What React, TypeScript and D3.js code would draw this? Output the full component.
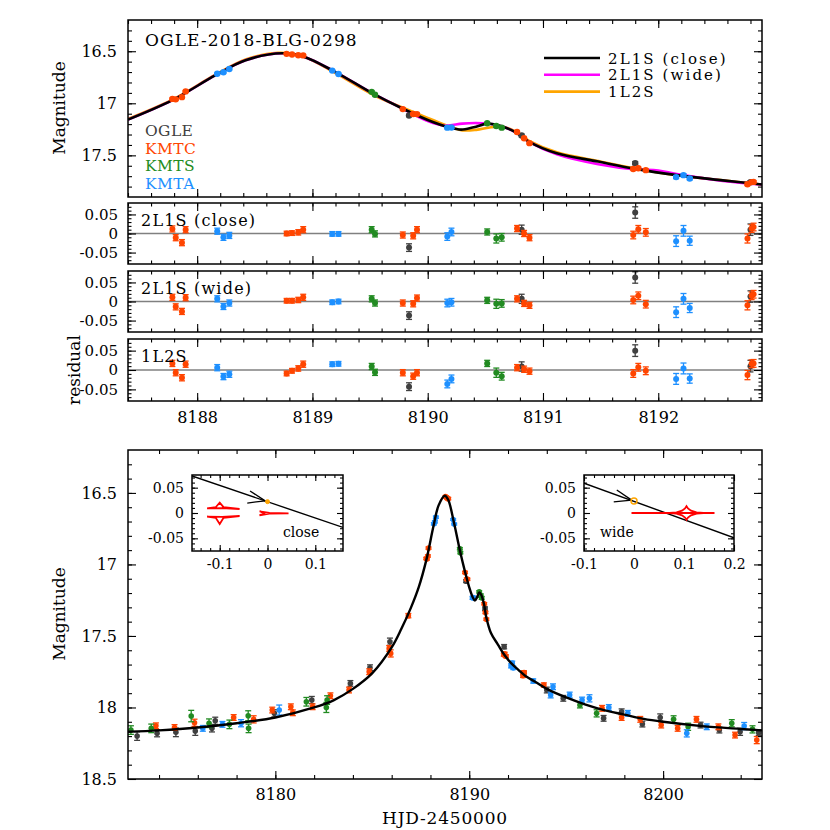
import { useRef, useEffect } from 'react'
import * as d3 from 'd3'

const FONT = 'DejaVu Serif'

const datasetNames = ['OGLE', 'KMTC', 'KMTS', 'KMTA']
const datasetColors = ['#404040', '#ff4500', '#228b22', '#1e90ff']

// points inside the zoomed window: [HJD', mag, err, res close, res wide, res 1L2S]
const zoomOgle = [
  [8189.838, 17.117, 0.01, -0.037, -0.037, -0.043],
  [8190.815, 17.309, 0.012, 0.01, 0.007, 0.009],
  [8191.8, 17.575, 0.015, 0.055, 0.063, 0.05],
  [8192.8, 17.759, 0.015, 0.01, 0.013, 0.01],
]
const zoomKmtc = [
  [8187.785, 16.958, 0.008, 0.012, 0.011, 0.017],
  [8187.814, 16.962, 0.008, -0.011, -0.014, -0.007],
  [8187.868, 16.941, 0.008, -0.024, -0.026, -0.02],
  [8187.9, 16.886, 0.008, 0.01, 0.01, 0.015],
  [8188.776, 16.525, 0.006, 0.0, 0.002, -0.009],
  [8188.823, 16.531, 0.006, 0.001, 0.002, -0.002],
  [8188.877, 16.539, 0.007, 0.003, 0.004, 0.004],
  [8188.92, 16.54, 0.008, 0.01, 0.011, 0.015],
  [8189.784, 17.056, 0.008, -0.004, -0.004, -0.007],
  [8189.874, 17.103, 0.008, -0.006, -0.006, -0.016],
  [8189.907, 17.104, 0.008, 0.01, 0.009, -0.007],
  [8190.775, 17.275, 0.008, 0.013, 0.007, 0.006],
  [8190.836, 17.336, 0.008, 0.0, -0.005, 0.002],
  [8190.883, 17.383, 0.008, -0.011, -0.01, -0.003],
  [8191.783, 17.631, 0.01, -0.004, 0.004, -0.009],
  [8191.827, 17.624, 0.01, 0.011, 0.015, 0.007],
  [8191.892, 17.642, 0.01, 0.003, -0.007, -0.002],
  [8192.774, 17.778, 0.012, -0.013, -0.01, -0.013],
  [8192.81, 17.757, 0.01, 0.013, 0.015, 0.016],
  [8192.827, 17.755, 0.01, 0.017, 0.019, 0.017],
]
const zoomKmts = [
  [8189.514, 16.89, 0.008, 0.01, 0.007, 0.009],
  [8189.543, 16.918, 0.008, -0.001, -0.004, -0.006],
  [8190.516, 17.192, 0.008, 0.004, 0.003, 0.017],
  [8190.595, 17.218, 0.012, -0.013, -0.006, -0.007],
  [8190.642, 17.234, 0.01, -0.01, -0.005, -0.016],
]
const zoomKmta = [
  [8188.174, 16.716, 0.008, 0.006, 0.007, 0.006],
  [8188.228, 16.702, 0.008, -0.01, -0.013, -0.017],
  [8188.279, 16.67, 0.008, -0.005, -0.004, -0.011],
  [8189.172, 16.686, 0.006, -0.001, -0.002, 0.015],
  [8189.226, 16.718, 0.006, -0.001, 0.0, 0.016],
  [8190.17, 17.234, 0.01, -0.008, -0.004, -0.036],
  [8190.206, 17.232, 0.01, 0.004, -0.002, -0.023],
  [8192.155, 17.709, 0.014, -0.02, -0.028, -0.023],
  [8192.219, 17.69, 0.014, 0.007, 0.007, 0.004],
  [8192.273, 17.723, 0.012, -0.019, -0.017, -0.022],
]

// points outside the zoomed window: [HJD', mag, err]
const wingOgle = [
  [8172.87, 18.2, 0.03], [8173.9, 18.18, 0.025], [8174.87, 18.174, 0.03], [8175.87, 18.165, 0.03],
  [8176.73, 18.146, 0.025], [8176.9, 18.093, 0.025], [8179.95, 18.041, 0.025], [8181.88, 17.948, 0.025],
  [8183.87, 17.832, 0.02], [8184.88, 17.722, 0.02], [8185.91, 17.54, 0.025], [8194.0, 17.878, 0.02],
  [8194.85, 17.936, 0.02], [8196.93, 18.076, 0.02], [8197.86, 18.03, 0.02], [8198.93, 18.116, 0.02],
  [8199.85, 18.07, 0.025], [8201.93, 18.123, 0.02], [8202.9, 18.158, 0.02], [8203.97, 18.17, 0.025],
  [8204.93, 18.176, 0.02],
]
const wingKmtc = [
  [8173.84, 18.128, 0.02], [8174.8, 18.14, 0.02], [8175.83, 18.107, 0.025], [8177.85, 18.07, 0.02],
  [8178.88, 18.083, 0.025], [8179.84, 18.018, 0.02], [8180.8, 17.995, 0.02], [8180.9, 18.037, 0.02],
  [8181.92, 17.995, 0.02], [8182.84, 17.918, 0.02], [8183.8, 17.878, 0.02], [8184.84, 17.75, 0.02],
  [8185.87, 17.587, 0.02], [8185.95, 17.622, 0.025], [8186.86, 17.358, 0.015], [8193.85, 17.843, 0.015],
  [8196.85, 18.006, 0.02], [8197.86, 18.07, 0.02], [8198.82, 18.083, 0.02], [8199.9, 18.123, 0.02],
  [8200.75, 18.146, 0.02], [8201.72, 18.083, 0.02], [8202.85, 18.135, 0.02], [8203.71, 18.193, 0.02],
  [8204.83, 18.228, 0.025],
]
const wingKmts = [
  [8172.55, 18.158, 0.03], [8173.6, 18.146, 0.03], [8175.66, 18.06, 0.04], [8176.58, 18.11, 0.03],
  [8177.63, 18.118, 0.03], [8178.6, 18.058, 0.035], [8178.62, 18.146, 0.03], [8181.6, 17.96, 0.03],
  [8182.63, 18.0, 0.035], [8182.67, 17.948, 0.03], [8195.71, 17.983, 0.02], [8196.57, 18.041, 0.025],
  [8200.54, 18.083, 0.025], [8201.29, 18.135, 0.025], [8203.54, 18.11, 0.025], [8204.61, 18.153, 0.025],
]
const wingKmta = [
  [8176.26, 18.146, 0.02], [8177.27, 18.118, 0.02], [8178.23, 18.11, 0.025], [8180.2, 18.018, 0.035],
  [8193.3, 17.815, 0.015], [8194.2, 17.913, 0.02], [8194.32, 17.855, 0.02], [8195.18, 17.913, 0.02],
  [8195.82, 17.948, 0.02], [8196.2, 17.936, 0.025], [8197.2, 18.0, 0.02], [8198.18, 18.041, 0.02],
  [8201.22, 18.181, 0.025], [8202.25, 18.135, 0.02], [8204.18, 18.13, 0.025],
]

// model curves: [HJD', mag]
const modelClose = [
  [8187.4, 17.157], [8187.785, 16.97], [8188.16, 16.73], [8188.42, 16.587], [8188.74, 16.52],
  [8188.92, 16.55], [8189.2, 16.7], [8189.53, 16.91], [8189.78, 17.05], [8190.0, 17.16],
  [8190.18, 17.23], [8190.29, 17.253], [8190.4, 17.23], [8190.52, 17.195], [8190.61, 17.21],
  [8190.76, 17.276], [8190.88, 17.37], [8191.12, 17.48], [8191.48, 17.56], [8191.8, 17.63],
  [8192.16, 17.69], [8192.56, 17.74], [8192.9, 17.78],
]
const modelWide = [
  [8187.4, 17.157], [8187.785, 16.97], [8188.16, 16.73], [8188.42, 16.587], [8188.74, 16.52],
  [8188.92, 16.55], [8189.2, 16.7], [8189.53, 16.91], [8189.78, 17.05], [8190.0, 17.17],
  [8190.15, 17.215], [8190.3, 17.195], [8190.42, 17.19], [8190.52, 17.195], [8190.61, 17.21],
  [8190.76, 17.276], [8190.88, 17.37], [8191.12, 17.49], [8191.48, 17.585], [8191.8, 17.635],
  [8192.0, 17.645], [8192.16, 17.68], [8192.56, 17.745], [8192.9, 17.78],
]
const model1L2S = [
  [8187.4, 17.15], [8187.785, 16.965], [8188.16, 16.725], [8188.42, 16.58], [8188.7, 16.515],
  [8188.92, 16.55], [8189.2, 16.71], [8189.53, 16.92], [8189.78, 17.04], [8190.0, 17.14],
  [8190.18, 17.22], [8190.3, 17.26], [8190.42, 17.255], [8190.55, 17.23], [8190.65, 17.225],
  [8190.76, 17.27], [8190.88, 17.36], [8191.12, 17.47], [8191.48, 17.555], [8191.8, 17.625],
  [8192.16, 17.69], [8192.56, 17.74], [8192.9, 17.78],
]
const modelWingLeft = [
  [8172.4, 18.17], [8174, 18.16], [8176, 18.14], [8178, 18.11], [8180, 18.07], [8182, 18.0],
  [8183, 17.95], [8184, 17.87], [8185, 17.76], [8186, 17.58], [8186.5, 17.45], [8187.0, 17.3],
]
const modelWingRight = [
  [8193.4, 17.82], [8194, 17.87], [8195, 17.93], [8196, 17.98], [8197, 18.02], [8198, 18.05],
  [8199, 18.08], [8200, 18.1], [8202, 18.13], [8204, 18.15], [8205.1, 18.16],
]

// caustics and source trajectories (units of theta_E)
const closeCausticUpper = [
  [-0.1265, 0.0093], [-0.108, 0.0118], [-0.1, 0.0204], [-0.092, 0.0115], [-0.0584, 0.0079],
  [-0.095, 0.0098], [-0.1265, 0.0093],
]
const closeCausticLower = [
  [-0.1265, -0.0073], [-0.108, -0.0098], [-0.1, -0.0217], [-0.092, -0.0095], [-0.0584, -0.0059],
  [-0.095, -0.0078], [-0.1265, -0.0073],
]
const closeCausticCentral = [
  [-0.0167, 0.0034], [0.004, 0.0002], [0.044, -0.0006], [0.004, -0.0014], [-0.0167, -0.0045],
  [-0.008, -0.0006], [-0.0167, 0.0034],
]
const closeTrajectory = [[-0.158, 0.073], [0.158, -0.0285]]
const closeSource = [0, 0.0224]

const wideCausticLine = [[-0.005, 0], [0.161, 0]]
const wideCausticPlanet = [
  [0.139, 0], [0.125, 0.0012], [0.114, 0.0045], [0.108, 0.009], [0.105, 0.0135], [0.102, 0.009],
  [0.096, 0.0045], [0.085, 0.0012], [0.071, 0], [0.085, -0.0012], [0.096, -0.0045], [0.102, -0.009],
  [0.105, -0.0135], [0.108, -0.009], [0.114, -0.0045], [0.125, -0.0012], [0.139, 0],
]
const wideTrajectory = [[-0.1, 0.0587], [0.2, -0.0488]]
const wideSource = [0, 0.0237]

const modelNames = ['2L1S (close)', '2L1S (wide)', '1L2S']
const modelColors = ['#000000', '#ff00ff', '#ffa500']

const step = (a: number, b: number, s: number) =>
  d3.range(Math.round(a / s), Math.round(b / s) + 1).map((i) => +(i * s).toFixed(4))

const fmt = (d: any) => String(d)

function boxTicks(g: any, x: any, y: any, o: any) {
  const [x0, x1] = x.range()
  const yb = Math.max(...y.range())
  const yt = Math.min(...y.range())
  const blank = () => ''
  const add = (axis: any, tx: number, ty: number, fs: number) =>
    g
      .append('g')
      .attr('transform', `translate(${tx},${ty})`)
      .call(axis)
      .attr('font-family', FONT)
      .attr('font-size', fs)
      .call((a: any) => a.select('.domain').remove())
      .call((a: any) => a.selectAll('line').attr('stroke-width', 1.1))
  const big = o.major ?? 8
  const small = o.minor ?? 4
  const fs = o.fontSize ?? 16
  add(d3.axisBottom(x).tickValues(o.xMinor).tickSize(-small).tickFormat(blank), 0, yb, fs)
  add(
    d3.axisBottom(x).tickValues(o.xMajor).tickSize(-big).tickPadding(o.xPad ?? 11)
      .tickFormat(o.xLabels ? fmt : blank),
    0, yb, fs,
  )
  add(d3.axisTop(x).tickValues(o.xMinor).tickSize(-small).tickFormat(blank), 0, yt, fs)
  add(d3.axisTop(x).tickValues(o.xMajor).tickSize(-big).tickFormat(blank), 0, yt, fs)
  add(d3.axisLeft(y).tickValues(o.yMinor).tickSize(-small).tickFormat(blank), x0, 0, fs)
  add(
    d3.axisLeft(y).tickValues(o.yMajor).tickSize(-big).tickPadding(o.yPad ?? 11)
      .tickFormat(o.yLabels ? fmt : blank),
    x0, 0, o.yFontSize ?? fs,
  )
  add(d3.axisRight(y).tickValues(o.yMinor).tickSize(-small).tickFormat(blank), x1, 0, fs)
  add(d3.axisRight(y).tickValues(o.yMajor).tickSize(-big).tickFormat(blank), x1, 0, fs)
  g.append('rect')
    .attr('x', x0)
    .attr('y', yt)
    .attr('width', x1 - x0)
    .attr('height', yb - yt)
    .attr('fill', 'none')
    .attr('stroke', 'black')
    .attr('stroke-width', 1.5)
}

function drawPoints(g: any, pts: number[][], x: any, y: any, color: string, r: number) {
  const grp = g.append('g').attr('stroke', color).attr('fill', color)
  pts.forEach(([t, v, e]) => {
    const cx = x(t)
    const ya = y(v - e)
    const yb = y(v + e)
    grp.append('line').attr('x1', cx).attr('x2', cx).attr('y1', ya).attr('y2', yb).attr('stroke-width', 1.3)
    ;[ya, yb].forEach((yy) =>
      grp.append('line').attr('x1', cx - 3).attr('x2', cx + 3).attr('y1', yy).attr('y2', yy).attr('stroke-width', 1.3),
    )
    grp.append('circle').attr('cx', cx).attr('cy', y(v)).attr('r', r).attr('stroke', 'none')
  })
}

function clip(svg: any, id: string, x: any, y: any) {
  const [x0, x1] = x.range()
  const yb = Math.max(...y.range())
  const yt = Math.min(...y.range())
  svg
    .append('clipPath')
    .attr('id', id)
    .append('rect')
    .attr('x', x0)
    .attr('y', yt)
    .attr('width', x1 - x0)
    .attr('height', yb - yt)
  return svg.append('g').attr('clip-path', `url(#${id})`)
}

function drawInset(svg: any, x: any, y: any, o: any) {
  const [x0, x1] = x.range()
  const yb = Math.max(...y.range())
  const yt = Math.min(...y.range())
  svg.append('rect').attr('x', x0).attr('y', yt).attr('width', x1 - x0).attr('height', yb - yt).attr('fill', 'white')
  const g = clip(svg, o.id, x, y)
  const line = d3.line().x((d: any) => x(d[0])).y((d: any) => y(d[1]))
  g.append('path').attr('d', line(o.trajectory)).attr('stroke', 'black').attr('stroke-width', 1.4).attr('fill', 'none')
  o.caustics.forEach((c: any) =>
    g.append('path').attr('d', line(c)).attr('stroke', '#ff0000').attr('stroke-width', 1.8).attr('fill', 'none'),
  )
  // arrow head just before the source position
  const [p, q] = o.trajectory
  const ang = Math.atan2(y(q[1]) - y(p[1]), x(q[0]) - x(p[0]))
  const tx = x(o.source[0]) - 2.5 * Math.cos(ang)
  const ty = y(o.source[1]) - 2.5 * Math.sin(ang)
  ;[-0.45, 0.25].forEach((da) => {
    g.append('line')
      .attr('x1', tx)
      .attr('y1', ty)
      .attr('x2', tx - 18 * Math.cos(ang + da))
      .attr('y2', ty - 18 * Math.sin(ang + da))
      .attr('stroke', 'black')
      .attr('stroke-width', 1.3)
  })
  g.append('circle')
    .attr('cx', x(o.source[0]))
    .attr('cy', y(o.source[1]))
    .attr('r', o.ring ? 3 : 2)
    .attr('fill', o.ring ? 'none' : '#ffa500')
    .attr('stroke', '#ffa500')
    .attr('stroke-width', o.ring ? 1.5 : 1)
  g.append('text')
    .text(o.label)
    .attr('x', o.labelX)
    .attr('y', yb - 14)
    .attr('font-family', FONT)
    .attr('font-size', 14)
  boxTicks(svg, x, y, {
    xMajor: o.xMajor,
    xMinor: o.xMinor,
    yMajor: [-0.05, 0, 0.05],
    yMinor: step(-0.07, 0.07, 0.01),
    xLabels: true,
    yLabels: true,
    major: 6,
    minor: 3,
    fontSize: 14,
    xPad: 8,
    yPad: 8,
  })
}

const App = () => {
  const svgRef = useRef<SVGSVGElement>(null)

  useEffect(() => {
    const svg = d3.select(svgRef.current)
    svg.selectAll('*').remove()

    const left = 128
    const right = 762
    const zoomSets = [zoomOgle, zoomKmtc, zoomKmts, zoomKmta]
    const wingSets = [wingOgle, wingKmtc, wingKmts, wingKmta]

    // ---------- top light curve ----------
    const xTop = d3.scaleLinear().domain([8187.4, 8192.9]).range([left, right])
    const yTop = d3.scaleLinear().domain([16.2, 17.9]).range([20, 197])
    const topG = clip(svg, 'clip-top', xTop, yTop)
    const lineTop = d3
      .line()
      .x((d: any) => xTop(d[0]))
      .y((d: any) => yTop(d[1]))
      .curve(d3.curveCatmullRom.alpha(0.5))
    ;[model1L2S, modelWide, modelClose].forEach((m, i) =>
      topG
        .append('path')
        .attr('d', lineTop(m as any))
        .attr('fill', 'none')
        .attr('stroke', modelColors[2 - i])
        .attr('stroke-width', 2.6),
    )
    zoomSets.forEach((s, i) => drawPoints(topG, s, xTop, yTop, datasetColors[i], 3.2))
    boxTicks(svg, xTop, yTop, {
      xMajor: step(8188, 8192, 1),
      xMinor: step(8187.4, 8192.8, 0.2),
      yMajor: [16.5, 17, 17.5],
      yMinor: step(16.3, 17.8, 0.1),
      yLabels: true,
    })
    svg.append('text').text('OGLE-2018-BLG-0298').attr('x', 145).attr('y', 46)
      .attr('font-family', FONT).attr('font-size', 17).attr('letter-spacing', 1.1)
    modelNames.forEach((n, i) => {
      const yy = 58 + i * 16.8
      svg.append('line').attr('x1', 544).attr('x2', 600).attr('y1', yy).attr('y2', yy)
        .attr('stroke', modelColors[i]).attr('stroke-width', 2.6)
      svg.append('text').text(n).attr('x', 608).attr('y', yy + 5.5)
        .attr('font-family', FONT).attr('font-size', 15).attr('letter-spacing', 2.1)
    })
    datasetNames.forEach((n, i) => {
      svg.append('text').text(n).attr('x', 145).attr('y', 136 + i * 17.5)
        .attr('font-family', FONT).attr('font-size', 15.5).attr('letter-spacing', 0.4)
        .attr('fill', datasetColors[i])
    })
    svg.append('text').text('Magnitude').attr('transform', 'translate(65,108) rotate(-90)')
      .attr('text-anchor', 'middle').attr('font-family', FONT).attr('font-size', 17)

    // ---------- residual panels ----------
    const resPanels = [
      [203, 264],
      [271, 332],
      [339, 401],
    ]
    resPanels.forEach(([t, b], k) => {
      const yRes = d3.scaleLinear().domain([-0.08, 0.08]).range([b, t])
      const g = clip(svg, `clip-res${k}`, xTop, yRes)
      g.append('line').attr('x1', left).attr('x2', right).attr('y1', yRes(0)).attr('y2', yRes(0))
        .attr('stroke', '#808080').attr('stroke-width', 1.5)
      zoomSets.forEach((s, i) =>
        drawPoints(g, s.map((p) => [p[0], p[3 + k], p[2]]), xTop, yRes, datasetColors[i], 3),
      )
      boxTicks(svg, xTop, yRes, {
        xMajor: step(8188, 8192, 1),
        xMinor: step(8187.4, 8192.8, 0.2),
        yMajor: [-0.05, 0, 0.05],
        yMinor: step(-0.07, 0.07, 0.01),
        xLabels: k === 2,
        yLabels: true,
        yFontSize: 15,
        yPad: 10,
        minor: 3.5,
      })
      svg.append('text').text(modelNames[k]).attr('x', 141).attr('y', t + 23)
        .attr('font-family', FONT).attr('font-size', 16).attr('letter-spacing', 1.2)
    })
    svg.append('text').text('residual').attr('transform', 'translate(80,370) rotate(-90)')
      .attr('text-anchor', 'middle').attr('font-family', FONT).attr('font-size', 17)

    // ---------- full light curve ----------
    const xBot = d3.scaleLinear().domain([8172.4, 8205.1]).range([left, right])
    const yBot = d3.scaleLinear().domain([16.2, 18.5]).range([450, 779])
    const botG = clip(svg, 'clip-bot', xBot, yBot)
    zoomSets.forEach((s, i) => drawPoints(botG, s, xBot, yBot, datasetColors[i], 2.8))
    wingSets.forEach((s, i) => drawPoints(botG, s, xBot, yBot, datasetColors[i], 2.8))
    const lineBot = d3
      .line()
      .x((d: any) => xBot(d[0]))
      .y((d: any) => yBot(d[1]))
      .curve(d3.curveCatmullRom.alpha(0.5))
    botG
      .append('path')
      .attr('d', lineBot([...modelWingLeft, ...modelClose, ...modelWingRight] as any))
      .attr('fill', 'none')
      .attr('stroke', 'black')
      .attr('stroke-width', 2.4)
    boxTicks(svg, xBot, yBot, {
      xMajor: [8180, 8190, 8200],
      xMinor: step(8174, 8204, 2),
      yMajor: [16.5, 17, 17.5, 18, 18.5],
      yMinor: step(16.3, 18.4, 0.1),
      xLabels: true,
      yLabels: true,
      xPad: 10,
    })
    svg.append('text').text('Magnitude').attr('transform', 'translate(65,614) rotate(-90)')
      .attr('text-anchor', 'middle').attr('font-family', FONT).attr('font-size', 17)
    svg.append('text').text('HJD-2450000').attr('x', 445).attr('y', 824)
      .attr('text-anchor', 'middle').attr('font-family', FONT).attr('font-size', 17).attr('letter-spacing', 0.8)

    // ---------- insets ----------
    const yIn = d3.scaleLinear().domain([-0.075, 0.075]).range([551, 475])
    drawInset(svg, d3.scaleLinear().domain([-0.158, 0.158]).range([192, 343]), yIn, {
      id: 'clip-close',
      trajectory: closeTrajectory,
      caustics: [closeCausticUpper, closeCausticLower, closeCausticCentral],
      source: closeSource,
      ring: false,
      label: 'close',
      labelX: 283,
      xMajor: [-0.1, 0, 0.1],
      xMinor: step(-0.14, 0.14, 0.02),
    })
    drawInset(svg, d3.scaleLinear().domain([-0.1, 0.2]).range([584, 734]), yIn, {
      id: 'clip-wide',
      trajectory: wideTrajectory,
      caustics: [wideCausticLine, wideCausticPlanet],
      source: wideSource,
      ring: true,
      label: 'wide',
      labelX: 600,
      xMajor: [-0.1, 0, 0.1, 0.2],
      xMinor: step(-0.08, 0.18, 0.02),
    })
  }, [])

  return (
    <svg
      ref={svgRef}
      width={830}
      height={830}
      style={{ position: 'absolute', left: 0, top: 0, background: 'white' }}
    />
  )
}

export default App
